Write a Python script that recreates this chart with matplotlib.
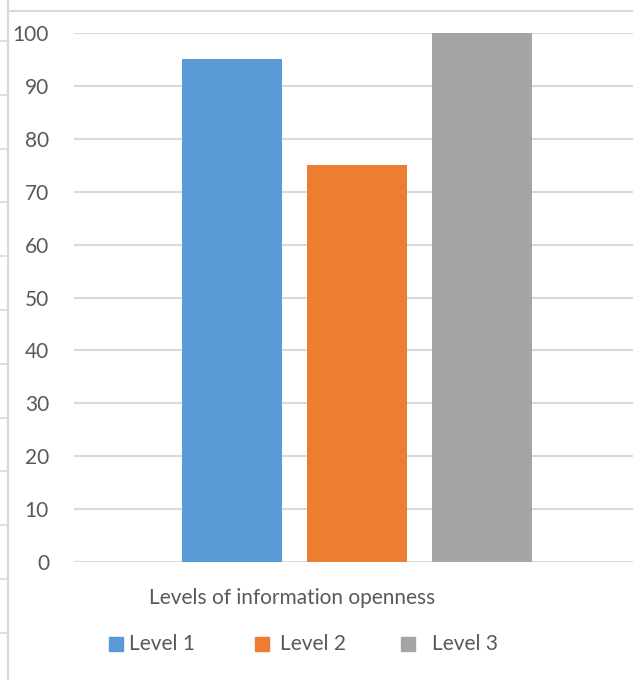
import matplotlib
matplotlib.use("Agg")
import matplotlib.pyplot as plt
from matplotlib.patches import Rectangle
from matplotlib.lines import Line2D

series = ["Level 1", "Level 2", "Level 3"]
values = [95, 75, 100]
colors = ["#5b9bd5", "#ed7d31", "#a5a5a5"]
category_label = "Levels of information openness"
yticks = [0, 10, 20, 30, 40, 50, 60, 70, 80, 90, 100]

W, H = 633, 680
fig = plt.figure(figsize=(W / 100, H / 100), dpi=100)
plt.rcParams['font.family'] = ['Lato', 'DejaVu Sans']

def fx(px):
    return px / W

def fy(py):
    return 1 - py / H

grid_c = "#d9d9d9"
text_c = "#595959"
fs = 15

# spreadsheet-like background lines
fig.add_artist(Line2D([fx(8), fx(8)], [0, 1], color=grid_c, lw=1.5))
fig.add_artist(Line2D([fx(8), 1], [fy(11), fy(11)], color=grid_c, lw=1.5))
for i in range(12):
    y = 41 + 53.8 * i
    fig.add_artist(Line2D([0, fx(8)], [fy(y), fy(y)], color=grid_c, lw=1.2))

ax = fig.add_axes([fx(74), fy(562), fx(640) - fx(74), fy(33) - fy(562)])
ax.set_ylim(0, 100)
ax.set_xlim(0, 1)
step = 125 / 566
width = 100 / 566
for i, (s, v, c) in enumerate(zip(series, values, colors)):
    ax.bar(0.5 + (i - 1) * step, v, width=width, color=c, label=s, zorder=3)

ax.set_yticks(yticks)
ax.set_yticklabels([str(t) for t in yticks], fontsize=fs, color=text_c)
ax.tick_params(axis='y', length=0, pad=18)
ax.set_xticks([])
ax.grid(axis='y', color=grid_c, lw=1.5, zorder=0)
for sp in ax.spines.values():
    sp.set_visible(False)
ax.patch.set_alpha(0)

fig.text(fx(292), fy(598), category_label, fontsize=fs, color=text_c,
         ha='center', va='center')

# legend
leg_sq = [109, 255, 401]
leg_tx = [129, 280, 432]
for s, c, sx, tx in zip(series, colors, leg_sq, leg_tx):
    fig.add_artist(Rectangle((fx(sx), fy(651)), fx(14), 14 / H, color=c,
                             transform=fig.transFigure))
    fig.text(fx(tx), fy(644), s, fontsize=fs, color=text_c, ha='left', va='center')

fig.savefig("out.png", dpi=100)
